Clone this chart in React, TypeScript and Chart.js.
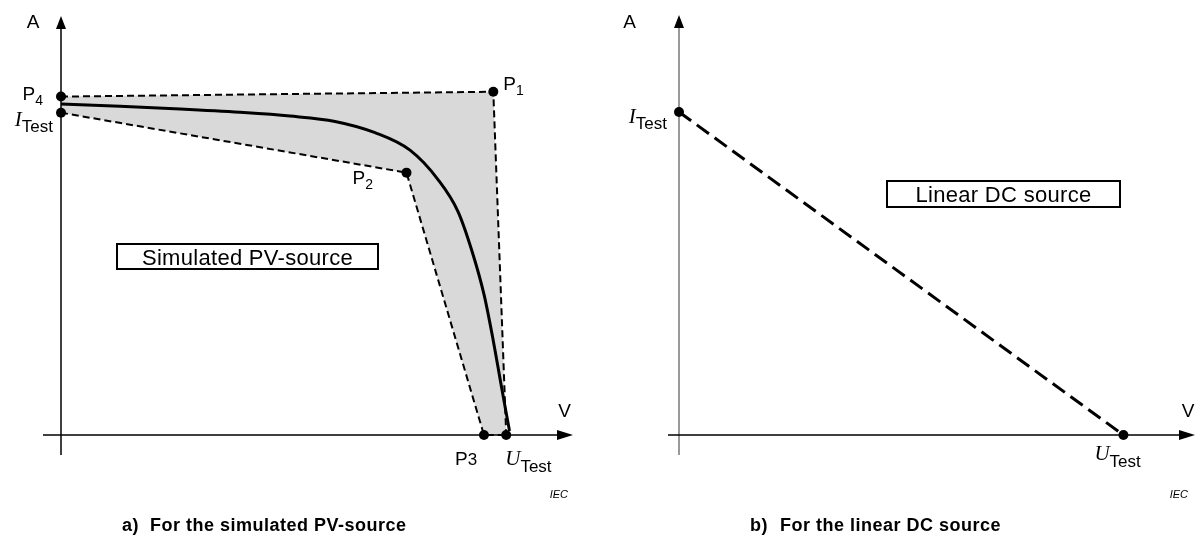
import React, { useEffect, useRef } from "react";
import { Chart, registerables } from "chart.js";

Chart.register(...registerables);

// ---- Data (V in % of U_Test, A in % of I_Test) ----
// a) simulated PV-source
const pvCurveV = [0, 13.25, 26.73, 40.21, 51.44, 61.55, 70.53, 78.39, 84.68, 89.17, 92.32, 95.01, 97.04, 98.83, 100.74];
const pvCurveI = [102.7, 101.99, 101.15, 100.12, 98.96, 97.29, 93.81, 88.38, 79.26, 69.33, 57.03, 43.62, 29.66, 15.76, 1.24];
// upper envelope P4 -> P1 -> U_Test
const upperV = [0, 97.1, 100];
const upperI = [105, 106.5, 0];
// lower envelope I_Test -> P2 -> P3 -> U_Test
const lowerV = [0, 77.6, 95.0, 100];
const lowerI = [100, 81.4, 0, 0];
// markers: P1, P2, P3, P4, I_Test, U_Test
const pvMarkerNames = ["P1", "P2", "P3", "P4", "ITest", "UTest"];
const pvMarkerV = [97.1, 77.6, 95.0, 0, 0, 100];
const pvMarkerI = [106.5, 81.4, 0, 105, 100, 0];

// b) linear DC source
const linV = [0, 100];
const linI = [100, 0];
const linMarkerNames = ["ITest", "UTest"];

const captionA = ["a)", "For the simulated PV-source"];
const captionB = ["b)", "For the linear DC source"];
const boxTextA = "Simulated PV-source";
const boxTextB = "Linear DC source";

const SANS = '"Liberation Sans", Arial, sans-serif';
const SERIF = '"Liberation Serif", "Times New Roman", serif';

type Part = { t: string; font: string; dy?: number };

function drawParts(ctx: CanvasRenderingContext2D, parts: Part[], x: number, y: number, align: string, spacing = 0) {
  (ctx as any).letterSpacing = spacing + "px";
  const widths = parts.map((p) => {
    ctx.font = p.font;
    return ctx.measureText(p.t).width;
  });
  const total = widths.reduce((a, b) => a + b, 0);
  let sx = align === "left" ? x : align === "right" ? x - total : x - total / 2;
  ctx.textAlign = "left";
  ctx.textBaseline = "alphabetic";
  parts.forEach((p, i) => {
    ctx.font = p.font;
    ctx.fillText(p.t, sx, y + (p.dy || 0));
    sx += widths[i];
  });
  (ctx as any).letterSpacing = "0px";
}

function labelParts(name: string): Part[] {
  if (name === "ITest") return [
    { t: "I", font: `italic 21px ${SERIF}` },
    { t: "Test", font: `17px ${SANS}`, dy: 6 },
  ];
  if (name === "UTest") return [
    { t: "U", font: `italic 21px ${SERIF}` },
    { t: "Test", font: `17px ${SANS}`, dy: 7 },
  ];
  if (name === "P3") return [
    { t: "P", font: `19px ${SANS}` },
    { t: "3", font: `17px ${SANS}` },
  ];
  const n = name.slice(1);
  return [
    { t: "P", font: `19px ${SANS}` },
    { t: n, font: `14px ${SANS}`, dy: 5 },
  ];
}

type Anchor = { dx: number; dy: number; align: string };

function makePlugin(cfg: any) {
  return {
    id: "diagram-" + cfg.key,
    beforeDatasetsDraw(chart: any) {
      const ctx: CanvasRenderingContext2D = chart.ctx;
      const { right, top } = chart.chartArea;
      const x0 = chart.scales.x.getPixelForValue(0);
      const y0 = chart.scales.y.getPixelForValue(0);
      ctx.save();
      // y axis
      ctx.strokeStyle = cfg.yAxisColor;
      ctx.fillStyle = "#000";
      ctx.lineWidth = 1.5;
      ctx.beginPath();
      ctx.moveTo(x0, y0 + 20);
      ctx.lineTo(x0, top + 12);
      ctx.stroke();
      ctx.beginPath();
      ctx.moveTo(x0, top);
      ctx.lineTo(x0 - 5, top + 13);
      ctx.lineTo(x0 + 5, top + 13);
      ctx.closePath();
      ctx.fill();
      // x axis
      ctx.strokeStyle = "#000";
      ctx.beginPath();
      ctx.moveTo(x0 - cfg.xAxisStart, y0);
      ctx.lineTo(right - 14, y0);
      ctx.stroke();
      ctx.beginPath();
      ctx.moveTo(right, y0);
      ctx.lineTo(right - 16, y0 - 5);
      ctx.lineTo(right - 16, y0 + 5);
      ctx.closePath();
      ctx.fill();
      ctx.restore();
    },
    afterDraw(chart: any) {
      const ctx: CanvasRenderingContext2D = chart.ctx;
      const xs = chart.scales.x;
      const ys = chart.scales.y;
      ctx.save();
      ctx.fillStyle = "#000";
      // marker labels
      cfg.markers.forEach((m: any) => {
        const px = xs.getPixelForValue(m.v);
        const py = ys.getPixelForValue(m.i);
        const a: Anchor = cfg.anchors[m.name];
        drawParts(ctx, labelParts(m.name), px + a.dx, py + a.dy, a.align);
      });
      // axis letters
      drawParts(ctx, [{ t: "A", font: `19px ${SANS}` }], cfg.aPos[0], cfg.aPos[1], "center");
      drawParts(ctx, [{ t: "V", font: `19px ${SANS}` }], cfg.vPos[0], cfg.vPos[1], "center");
      drawParts(ctx, [{ t: "IEC", font: `italic 11px ${SANS}` }], cfg.iecPos[0], cfg.iecPos[1], "right");
      // box
      const b = cfg.box;
      ctx.lineWidth = 2;
      ctx.strokeStyle = "#000";
      ctx.strokeRect(b.x, b.y, b.w, b.h);
      drawParts(ctx, [{ t: b.text, font: `22px ${SANS}` }], b.x + b.w / 2, b.y + b.h / 2 + 8, "center", 0.3);
      // caption
      const c = cfg.caption;
      drawParts(ctx, [{ t: c.parts[0], font: `bold 18px ${SANS}` }], c.x1, c.y, "left", 0.5);
      drawParts(ctx, [{ t: c.parts[1], font: `bold 18px ${SANS}` }], c.x2, c.y, "left", 0.5);
      ctx.restore();
    },
  };
}

function toXY(v: number[], i: number[]) {
  return v.map((x, k) => ({ x, y: i[k] }));
}

function baseOptions(pad: any, xMax: number, yMax: number): any {
  return {
    responsive: false,
    animation: false,
    layout: { padding: pad },
    events: [],
    plugins: {
      legend: { display: false },
      tooltip: { enabled: false },
      title: { display: false },
      filler: { drawTime: "beforeDatasetsDraw" },
    },
    scales: {
      x: { type: "linear", min: 0, max: xMax, display: false },
      y: { type: "linear", min: 0, max: yMax, display: false },
    },
  };
}

function LeftPanel() {
  const ref = useRef<HTMLCanvasElement | null>(null);
  useEffect(() => {
    if (!ref.current) return;
    const plugin = makePlugin({
      key: "a",
      yAxisColor: "#000",
      xAxisStart: 18,
      markers: pvMarkerNames.map((name, k) => ({ name, v: pvMarkerV[k], i: pvMarkerI[k] })),
      anchors: {
        P1: { dx: 10, dy: -2, align: "left" },
        P2: { dx: -54, dy: 11, align: "left" },
        P3: { dx: -29, dy: 30, align: "left" },
        P4: { dx: -18, dy: 3, align: "right" },
        ITest: { dx: -8, dy: 13, align: "right" },
        UTest: { dx: -1, dy: 30, align: "left" },
      },
      aPos: [33, 28],
      vPos: [564.5, 417],
      iecPos: [568, 498],
      box: { x: 117, y: 244, w: 261, h: 25, text: boxTextA },
      caption: { parts: captionA, x1: 122, x2: 150, y: 531 },
    });
    const chart = new Chart(ref.current, {
      type: "line",
      data: {
        datasets: [
          {
            data: toXY(pvMarkerV, pvMarkerI),
            showLine: false,
            pointRadius: 5,
            pointBackgroundColor: "#000",
            pointBorderColor: "#000",
            pointBorderWidth: 0,
            clip: false,
          },
          {
            data: toXY(pvCurveV, pvCurveI),
            borderColor: "#000",
            borderWidth: 3,
            pointRadius: 0,
            cubicInterpolationMode: "monotone",
            fill: false,
            clip: false,
          },
          {
            data: toXY(upperV, upperI),
            borderColor: "#000",
            borderWidth: 2,
            borderDash: [7, 4],
            pointRadius: 0,
            backgroundColor: "#d9d9d9",
            fill: "+1",
            clip: false,
          },
          {
            data: toXY(lowerV, lowerI),
            borderColor: "#000",
            borderWidth: 2,
            borderDash: [7, 4],
            pointRadius: 0,
            fill: false,
            clip: false,
          },
        ],
      },
      options: baseOptions({ left: 61, right: 27, top: 16, bottom: 115 }, 115, 130),
      plugins: [plugin],
    } as any);
    return () => chart.destroy();
  }, []);
  return <canvas ref={ref} width={600} height={550} style={{ display: "block" }} />;
}

function RightPanel() {
  const ref = useRef<HTMLCanvasElement | null>(null);
  useEffect(() => {
    if (!ref.current) return;
    const plugin = makePlugin({
      key: "b",
      yAxisColor: "#777",
      xAxisStart: 11,
      markers: linMarkerNames.map((name, k) => ({ name, v: linV[k], i: linI[k] })),
      anchors: {
        ITest: { dx: -12, dy: 11, align: "right" },
        UTest: { dx: -29, dy: 25, align: "left" },
      },
      aPos: [29.5, 28],
      vPos: [588, 417],
      iecPos: [588, 498],
      box: { x: 287, y: 181, w: 233, h: 26, text: boxTextB },
      caption: { parts: captionB, x1: 150, x2: 180, y: 531 },
    });
    const chart = new Chart(ref.current, {
      type: "line",
      data: {
        datasets: [
          {
            data: toXY(linV, linI),
            showLine: false,
            pointRadius: 5,
            pointBackgroundColor: "#000",
            pointBorderWidth: 0,
            clip: false,
          },
          {
            data: toXY(linV, linI),
            borderColor: "#000",
            borderWidth: 3,
            borderDash: [15, 7],
            pointRadius: 0,
            fill: false,
            clip: false,
          },
        ],
      },
      options: baseOptions({ left: 79, right: 2, top: 15, bottom: 115 }, 116.1, 130),
      plugins: [plugin],
    } as any);
    return () => chart.destroy();
  }, []);
  return <canvas ref={ref} width={600} height={550} style={{ display: "block" }} />;
}

export default function App() {
  return (
    <div
      style={{
        position: "absolute",
        left: 0,
        top: 0,
        width: 1200,
        height: 550,
        display: "flex",
        background: "#fff",
      }}
    >
      <LeftPanel />
      <RightPanel />
    </div>
  );
}
